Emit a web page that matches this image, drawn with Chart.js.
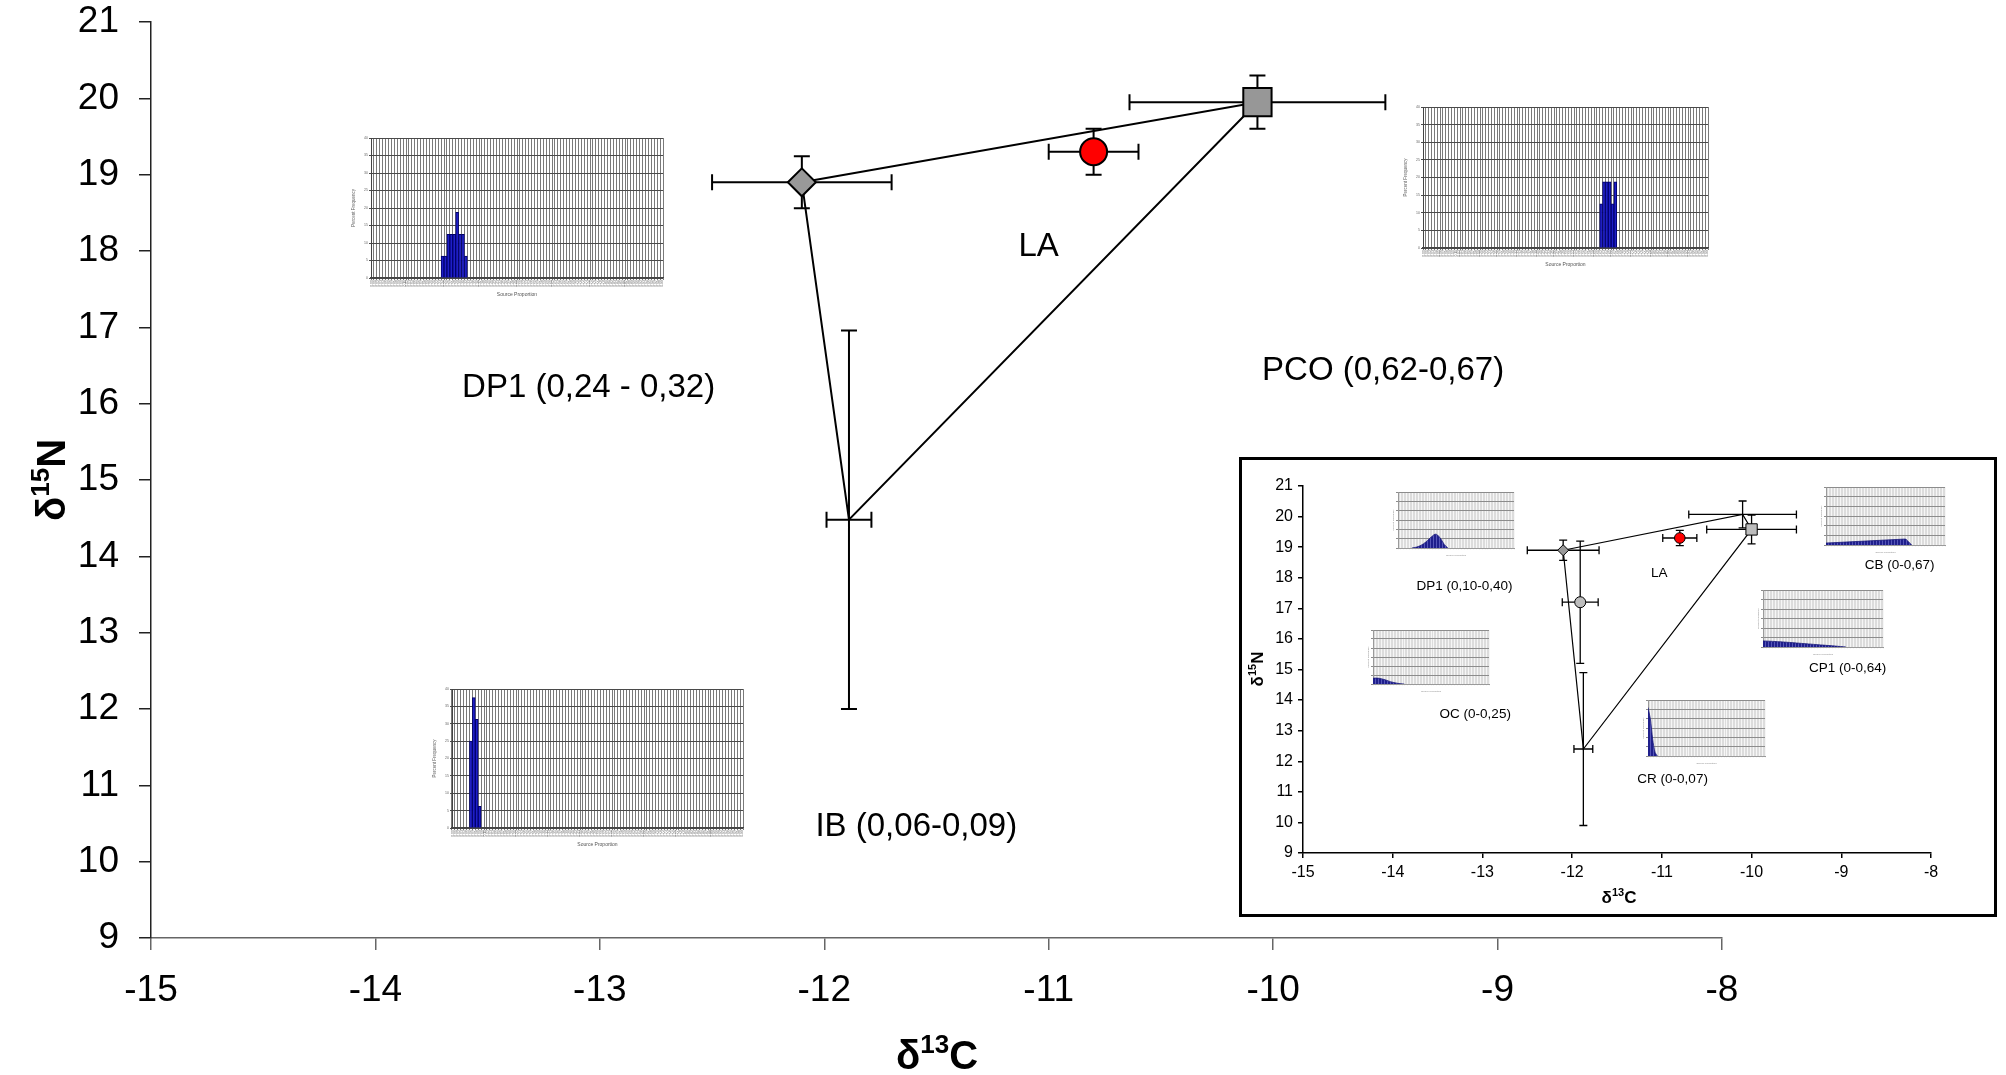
<!DOCTYPE html>
<html>
<head>
<meta charset="utf-8">
<title>δ13C / δ15N mixing polygon</title>
<script src="https://cdn.jsdelivr.net/npm/chart.js@4.4.1/dist/chart.umd.min.js"></script>
<style>
  html, body { margin: 0; padding: 0; background: #fff; }
  #stage { position: relative; width: 2006px; height: 1075px; overflow: hidden; background: #fff; }
  #stage canvas { position: absolute; }
  #inset { position: absolute; left: 1239px; top: 457px; width: 758px; height: 460px;
           border: 3px solid #000; box-sizing: border-box; background: #fff; }
</style>
</head>
<body>
<div id="stage">
  <canvas id="main"></canvas>
  <canvas id="histDP1"></canvas>
  <canvas id="histPCO"></canvas>
  <canvas id="histIB"></canvas>
  <div id="inset">
    <canvas id="insetMain"></canvas>
    <canvas id="insDP1"></canvas>
    <canvas id="insCB"></canvas>
    <canvas id="insCP1"></canvas>
    <canvas id="insOC"></canvas>
    <canvas id="insCR"></canvas>
  </div>
</div>
<script>
// ---------- main biplot: source means ± SD ----------
const mainSources = ['DP1', 'LA', 'PCO', 'IB'];
const mainC   = [-12.1, -10.8, -10.07, -11.89];   // δ13C
const mainN   = [18.9, 19.3, 19.95, 14.48];        // δ15N
const mainCsd = [0.4, 0.2, 0.57, 0.1];
const mainNsd = [0.34, 0.3, 0.35, 2.48];
const mainHull = ['DP1', 'PCO', 'IB', 'DP1'];
const mainLabelText = ['DP1 (0,24 - 0,32)', 'LA', 'PCO (0,62-0,67)', 'IB (0,06-0,09)'];

const xTickValues = [-15, -14, -13, -12, -11, -10, -9, -8];
const yTickValues = [9, 10, 11, 12, 13, 14, 15, 16, 17, 18, 19, 20, 21];

// ---------- source-proportion histograms (percent frequency) ----------
const dp1Freq = [6.25, 6.25, 12.5, 12.5, 12.5, 18.75, 12.5, 12.5, 6.25]; // 0.24 – 0.32
const dp1First = 24;
const pcoFreq = [12.5, 18.75, 18.75, 18.75, 12.5, 18.75];              // 0.62 – 0.67
const pcoFirst = 62;
const ibFreq  = [25, 37.5, 31.25, 6.25];                                // 0.06 – 0.09
const ibFirst = 6;

// ---------- inset biplot ----------
const insetSources = ['DP1', 'OC', 'LA', 'CB', 'CP1', 'CR'];
const insetC   = [-12.1, -11.91, -10.8, -10.1, -10.0, -11.875];
const insetN   = [18.9, 17.2, 19.3, 20.07, 19.58, 12.4];
const insetCsd = [0.4, 0.2, 0.19, 0.6, 0.5, 0.105];
const insetNsd = [0.33, 2.0, 0.25, 0.44, 0.47, 2.5];
const insetHull = ['DP1', 'CB', 'CP1', 'CR', 'DP1'];
const insetLabelText = ['DP1 (0,10-0,40)', 'OC (0-0,25)', 'LA', 'CB (0-0,67)', 'CP1 (0-0,64)', 'CR (0-0,07)'];

// inset posterior densities: proportion vs percent frequency
const dp1DensP = [0.12, 0.16, 0.20, 0.24, 0.27, 0.30, 0.32, 0.34, 0.37, 0.40, 0.43];
const dp1DensF = [0, 0.5, 1.5, 3.2, 5.0, 6.6, 7.4, 7.0, 4.8, 1.8, 0];
const ocDensP  = [0, 0.03, 0.06, 0.09, 0.12, 0.15, 0.18, 0.21, 0.24, 0.27];
const ocDensF  = [3.2, 3.3, 3.1, 2.6, 2.0, 1.3, 0.8, 0.4, 0.15, 0];
const cbDensP  = [0, 0.67, 0.72];
const cbDensF  = [1.0, 3.1, 0];
const cp1DensP = [0, 0.1, 0.2, 0.3, 0.4, 0.5, 0.6, 0.69];
const cp1DensF = [3.2, 2.9, 2.5, 2.0, 1.5, 1.0, 0.5, 0];
const crDensP  = [0, 0.02, 0.04, 0.06, 0.08];
const crDensF  = [26, 20, 9, 2, 0];

// histogram bins 0.00 … 0.99
const binLabels = Array.from({ length: 100 }, (_, i) => (i / 100).toFixed(2));

const FONT = '"Liberation Sans", Arial, Helvetica, sans-serif';
Chart.defaults.font.family = FONT;
Chart.defaults.color = '#000';

// ---------- helpers ----------
function placeCanvas(id, left, top, w, h) {
  const c = document.getElementById(id);
  c.width = w; c.height = h;
  c.style.left = left + 'px'; c.style.top = top + 'px';
  c.style.width = w + 'px'; c.style.height = h + 'px';
  return c;
}

// text with a raised superscript, centred on (x, y)
function drawRich(ctx, parts, x, y, angle) {
  ctx.save();
  ctx.translate(x, y);
  ctx.rotate(angle || 0);
  ctx.fillStyle = '#000';
  ctx.textAlign = 'left';
  ctx.textBaseline = 'alphabetic';
  let w = 0;
  parts.forEach(p => { ctx.font = `bold ${p.size}px ${FONT}`; p.w = ctx.measureText(p.t).width; w += p.w; });
  const base = parts[0].size * 0.36;
  let cx = -w / 2;
  parts.forEach(p => { ctx.font = `bold ${p.size}px ${FONT}`; ctx.fillText(p.t, cx, base + (p.rise || 0)); cx += p.w; });
  ctx.restore();
}

function hullPoints(order, names, xs, ys) {
  return order.map(s => { const i = names.indexOf(s); return { x: xs[i], y: ys[i] }; });
}

// keep the plot area exactly where the layout puts it
function fixScaleBox(size, vertical) {
  return s => {
    if (vertical) s.width = size; else s.height = size;
    s.paddingTop = 0; s.paddingBottom = 0; s.paddingLeft = 0; s.paddingRight = 0;
  };
}

// error bars drawn beneath the markers
const errorBars = {
  id: 'errorBars',
  beforeDatasetsDraw(chart, args, o) {
    const { ctx } = chart, sx = chart.scales.x, sy = chart.scales.y;
    ctx.save();
    ctx.strokeStyle = '#000';
    ctx.lineWidth = o.width;
    o.x.forEach((xv, i) => {
      const px = sx.getPixelForValue(xv), py = sy.getPixelForValue(o.y[i]);
      const x0 = sx.getPixelForValue(xv - o.xErr[i]), x1 = sx.getPixelForValue(xv + o.xErr[i]);
      const y0 = sy.getPixelForValue(o.y[i] - o.yErr[i]), y1 = sy.getPixelForValue(o.y[i] + o.yErr[i]);
      ctx.beginPath();
      ctx.moveTo(x0, py); ctx.lineTo(x1, py);
      ctx.moveTo(x0, py - o.cap); ctx.lineTo(x0, py + o.cap);
      ctx.moveTo(x1, py - o.cap); ctx.lineTo(x1, py + o.cap);
      ctx.moveTo(px, y0); ctx.lineTo(px, y1);
      ctx.moveTo(px - o.cap, y0); ctx.lineTo(px + o.cap, y0);
      ctx.moveTo(px - o.cap, y1); ctx.lineTo(px + o.cap, y1);
      ctx.stroke();
    });
    ctx.restore();
  }
};

// source labels and δ axis titles
const annotate = {
  id: 'annotate',
  afterDraw(chart, args, o) {
    const { ctx } = chart, sx = chart.scales.x, sy = chart.scales.y;
    ctx.save();
    ctx.fillStyle = '#000';
    ctx.textAlign = 'center';
    ctx.textBaseline = 'middle';
    ctx.font = `${o.labelSize}px ${FONT}`;
    o.labels.forEach(l => ctx.fillText(l.text, sx.getPixelForValue(l.at[0]), sy.getPixelForValue(l.at[1])));
    ctx.restore();
    drawRich(ctx, o.xTitle.parts, o.xTitle.pos[0], o.xTitle.pos[1], 0);
    drawRich(ctx, o.yTitle.parts, o.yTitle.pos[0], o.yTitle.pos[1], -Math.PI / 2);
  }
};

const plotBg = {
  id: 'plotBg',
  beforeDraw(chart, args, o) {
    const a = chart.chartArea, ctx = chart.ctx;
    ctx.save(); ctx.fillStyle = o.color; ctx.fillRect(a.left, a.top, a.right - a.left, a.bottom - a.top); ctx.restore();
  }
};

function biplotOptions(cfg) {
  return {
    responsive: false, animation: false, events: [],
    layout: { padding: { top: cfg.padTop, right: cfg.padRight, left: 0, bottom: 0 } },
    plugins: {
      legend: { display: false }, tooltip: { enabled: false },
      errorBars: cfg.errorBars,
      annotate: cfg.annotate
    },
    scales: {
      x: {
        type: 'linear', min: -15, max: -8,
        afterBuildTicks: s => { s.ticks = xTickValues.map(v => ({ value: v })); },
        ticks: { font: { size: cfg.tickSize, lineHeight: 1 }, color: '#000', padding: cfg.xPad, callback: v => String(v) },
        grid: { drawOnChartArea: false, tickLength: cfg.tickLen, color: cfg.xAxisColor, lineWidth: cfg.axisWidth },
        border: { color: cfg.xAxisColor, width: cfg.axisWidth },
        afterFit: fixScaleBox(cfg.xHeight, false)
      },
      y: {
        type: 'linear', min: 9, max: 21,
        afterBuildTicks: s => { s.ticks = yTickValues.map(v => ({ value: v })); },
        ticks: { font: { size: cfg.tickSize, lineHeight: 1 }, color: '#000', padding: cfg.yPad, callback: v => String(v) },
        grid: { drawOnChartArea: false, tickLength: cfg.tickLen, color: cfg.yAxisColor, lineWidth: cfg.axisWidth },
        border: { color: cfg.yAxisColor, width: cfg.axisWidth },
        afterFit: fixScaleBox(cfg.yWidth, true)
      }
    }
  };
}

// ---------- main chart ----------
placeCanvas('main', 0, 0, 2006, 1075);
new Chart(document.getElementById('main'), {
  type: 'scatter',
  data: {
    datasets: [
      {
        label: 'sources',
        data: mainC.map((c, i) => ({ x: c, y: mainN[i] })),
        pointStyle: ['rectRot', 'circle', 'rect', 'circle'],
        pointRadius: [14, 13.5, 20, 0],
        backgroundColor: ['#999999', '#ff0000', '#979797', '#000'],
        borderColor: '#000',
        borderWidth: 2,
        order: 0
      },
      {
        label: 'mixing polygon',
        data: hullPoints(mainHull, mainSources, mainC, mainN),
        showLine: true, fill: false, pointRadius: 0,
        borderColor: '#000', borderWidth: 2, order: 1
      }
    ]
  },
  options: biplotOptions({
    padTop: 22, padRight: 284, xHeight: 137, yWidth: 151,
    tickSize: 37, tickLen: 12, xPad: 22, yPad: 20, axisWidth: 1.5,
    xAxisColor: '#666', yAxisColor: '#222',
    errorBars: { x: mainC, y: mainN, xErr: mainCsd, yErr: mainNsd, cap: 8, width: 2 },
    annotate: {
      labelSize: 33,
      labels: [
        { text: mainLabelText[0], at: [-13.05, 16.2] },
        { text: mainLabelText[1], at: [-11.045, 18.05] },
        { text: mainLabelText[2], at: [-9.51, 16.43] },
        { text: mainLabelText[3], at: [-11.59, 10.45] }
      ],
      xTitle: { pos: [937, 1055], parts: [{ t: 'δ', size: 40 }, { t: '13', size: 26, rise: -16 }, { t: 'C', size: 40 }] },
      yTitle: { pos: [51, 480], parts: [{ t: 'δ', size: 40 }, { t: '15', size: 26, rise: -16 }, { t: 'N', size: 40 }] }
    }
  }),
  plugins: [errorBars, annotate]
});

// ---------- histograms beside each source ----------
function sourceHistogram(id, grid, freqs, firstBin) {
  const mL = 20, mB = 20, mT = 4, mR = 4;
  const c = placeCanvas(id, grid.left - mL, grid.top - mT,
    grid.right - grid.left + mL + mR, grid.bottom - grid.top + mT + mB);
  new Chart(c, {
    type: 'bar',
    data: {
      labels: binLabels,
      datasets: [{
        data: freqs.map((v, i) => ({ x: binLabels[firstBin + i], y: v })),
        backgroundColor: '#1e1ec8', borderColor: '#00006a', borderWidth: 1,
        barPercentage: 1, categoryPercentage: 1
      }]
    },
    options: {
      responsive: false, animation: false, events: [],
      layout: { padding: { top: mT, right: mR, left: 0, bottom: 0 } },
      plugins: { legend: { display: false }, tooltip: { enabled: false } },
      scales: {
        x: {
          grid: { color: '#7a7a7a', lineWidth: 1, tickLength: 2, offset: true },
          border: { color: '#444', width: 1.5 },
          ticks: { autoSkip: false, maxRotation: 90, minRotation: 90, font: { size: 3.5 }, color: '#666', padding: 0 },
          title: { display: true, text: 'Source Proportion', font: { size: 5 }, color: '#555', padding: 0 },
          afterFit: fixScaleBox(mB, false)
        },
        y: {
          min: 0, max: 40,
          ticks: { stepSize: 5, font: { size: 3.5 }, color: '#666', padding: 1 },
          grid: { color: '#4a4a4a', tickLength: 2 },
          border: { color: '#444' },
          title: { display: true, text: 'Percent Frequency', font: { size: 4.5 }, color: '#666', padding: 0 },
          afterFit: fixScaleBox(mL, true)
        }
      }
    }
  });
}
sourceHistogram('histDP1', { left: 371, top: 138, right: 663, bottom: 278 }, dp1Freq, dp1First);
sourceHistogram('histPCO', { left: 1423, top: 107, right: 1708, bottom: 248 }, pcoFreq, pcoFirst);
sourceHistogram('histIB',  { left: 452, top: 689, right: 743, bottom: 828 }, ibFreq, ibFirst);

// ---------- inset ----------
const INSET_X = 1242, INSET_Y = 460;
placeCanvas('insetMain', 0, 0, 752, 454);
new Chart(document.getElementById('insetMain'), {
  type: 'scatter',
  data: {
    datasets: [
      {
        label: 'sources',
        data: insetC.map((c, i) => ({ x: c, y: insetN[i] })),
        pointStyle: ['rectRot', 'circle', 'circle', 'circle', 'rect', 'circle'],
        pointRadius: [5.5, 5.5, 5.3, 0, 8, 0],
        backgroundColor: ['#999999', '#bdbdbd', '#ff0000', '#000', '#bdbdbd', '#000'],
        borderColor: '#000', borderWidth: 1, order: 0
      },
      {
        label: 'mixing polygon',
        data: hullPoints(insetHull, insetSources, insetC, insetN),
        showLine: true, fill: false, pointRadius: 0,
        borderColor: '#000', borderWidth: 1.2, order: 1
      }
    ]
  },
  options: biplotOptions({
    padTop: 26, padRight: 63, xHeight: 61, yWidth: 61,
    tickSize: 16, tickLen: 5, xPad: 7, yPad: 5, axisWidth: 1.5,
    xAxisColor: '#000', yAxisColor: '#000',
    errorBars: { x: insetC, y: insetN, xErr: insetCsd, yErr: insetNsd, cap: 4, width: 1.3 },
    annotate: {
      labelSize: 13.5,
      labels: [
        { text: insetLabelText[0], at: [-13.2, 17.71] },
        { text: insetLabelText[1], at: [-13.08, 13.55] },
        { text: insetLabelText[2], at: [-11.03, 18.16] },
        { text: insetLabelText[3], at: [-8.35, 18.42] },
        { text: insetLabelText[4], at: [-8.93, 15.05] },
        { text: insetLabelText[5], at: [-10.88, 11.42] }
      ],
      xTitle: { pos: [377, 437], parts: [{ t: 'δ', size: 17 }, { t: '13', size: 11, rise: -7 }, { t: 'C', size: 17 }] },
      yTitle: { pos: [15, 209], parts: [{ t: 'δ', size: 17 }, { t: '15', size: 11, rise: -7 }, { t: 'N', size: 17 }] }
    }
  }),
  plugins: [errorBars, annotate]
});

// striped navy fill for the density areas
const stripeTile = document.createElement('canvas');
stripeTile.width = 3; stripeTile.height = 1;
const stc = stripeTile.getContext('2d');
stc.fillStyle = '#1f1f8c'; stc.fillRect(0, 0, 3, 1);
stc.fillStyle = '#5656b8'; stc.fillRect(2, 0, 1, 1);
const stripes = stc.createPattern(stripeTile, 'repeat');

function insetDensity(id, grid, props, freqs, tension) {
  const mL = 6, mB = 9, mT = 1, mR = 1;
  const c = placeCanvas(id, grid.left - mL - INSET_X, grid.top - mT - INSET_Y,
    grid.right - grid.left + mL + mR, grid.bottom - grid.top + mT + mB);
  new Chart(c, {
    type: 'line',
    data: {
      datasets: [{
        data: props.map((p, i) => ({ x: p, y: freqs[i] })),
        fill: 'origin', backgroundColor: stripes, borderColor: '#1a1a7a', borderWidth: 0.8,
        pointRadius: 0, tension: tension
      }]
    },
    options: {
      responsive: false, animation: false, events: [],
      layout: { padding: { top: mT, right: mR, left: 0, bottom: 0 } },
      plugins: { legend: { display: false }, tooltip: { enabled: false }, plotBg: { color: '#dcdcdc' } },
      scales: {
        x: {
          type: 'linear', min: 0, max: 1,
          ticks: { stepSize: 0.025, maxTicksLimit: 100, display: false },
          grid: { color: '#f6f6f6', lineWidth: 1, tickLength: 2 },
          border: { color: '#9a9a9a' },
          title: { display: true, text: 'Source Proportion', font: { size: 2.5 }, color: '#888', padding: 0 },
          afterFit: fixScaleBox(mB, false)
        },
        y: {
          min: 0, max: 30,
          ticks: { stepSize: 5, display: false },
          grid: { color: '#8c8c8c', tickLength: 2 },
          border: { color: '#9a9a9a' },
          title: { display: true, text: 'Percent Frequency', font: { size: 2.5 }, color: '#888', padding: 0 },
          afterFit: fixScaleBox(mL, true)
        }
      }
    },
    plugins: [plotBg]
  });
}
insetDensity('insDP1', { left: 1398, top: 492, right: 1514, bottom: 548 }, dp1DensP, dp1DensF, 0.35);
insetDensity('insCB',  { left: 1826, top: 487, right: 1945, bottom: 545 }, cbDensP, cbDensF, 0);
insetDensity('insCP1', { left: 1763, top: 590, right: 1883, bottom: 647 }, cp1DensP, cp1DensF, 0.2);
insetDensity('insOC',  { left: 1373, top: 630, right: 1489, bottom: 684 }, ocDensP, ocDensF, 0.35);
insetDensity('insCR',  { left: 1648, top: 700, right: 1765, bottom: 756 }, crDensP, crDensF, 0.3);
</script>
</body>
</html>
